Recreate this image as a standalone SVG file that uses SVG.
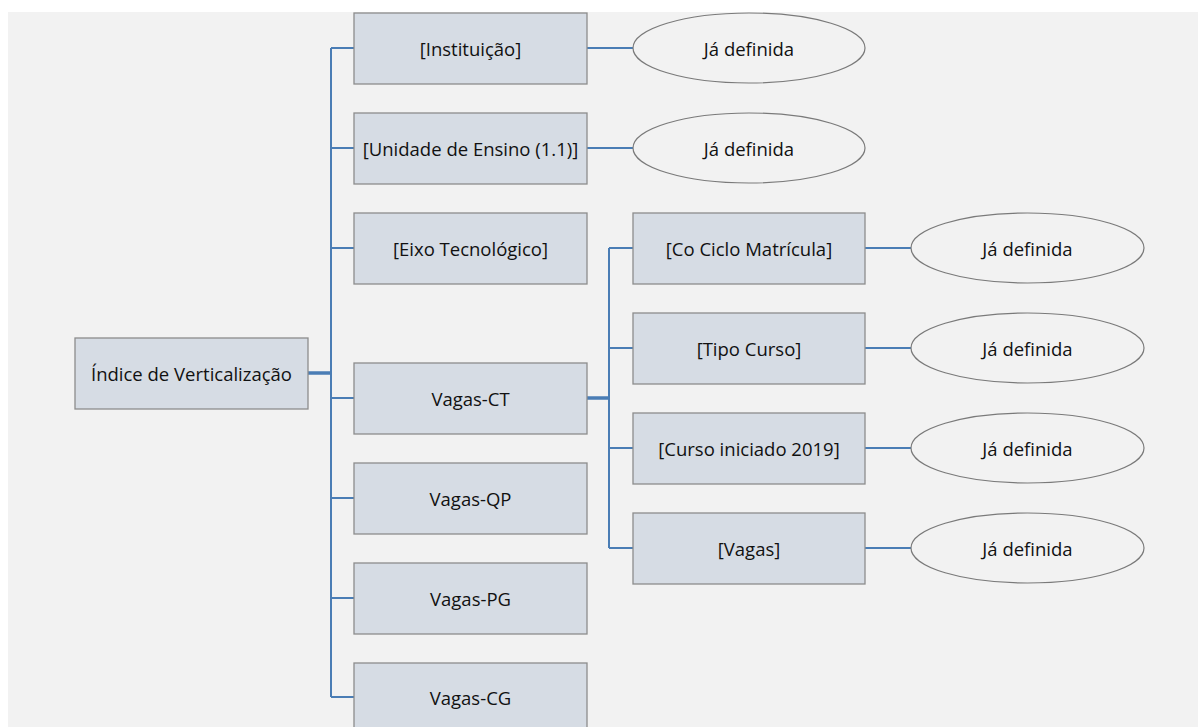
<svg xmlns="http://www.w3.org/2000/svg" width="1198" height="727" viewBox="0 0 1198 727">
<style>
.bg{fill:#f2f2f2}
.box{fill:#d6dce4;stroke:#8c8c8c;stroke-width:1.3}
.ell{fill:#f2f2f2;stroke:#7a7a7a;stroke-width:1.2}
.c{fill:none;stroke:#4a7db5;stroke-width:2}
.ct{fill:none;stroke:#4a7db5;stroke-width:3.5}
text{font-family:"Open Sans","Liberation Sans",sans-serif;font-size:18.5px;fill:#111;text-anchor:middle;dominant-baseline:central}
</style>
<rect class="bg" x="8" y="12" width="1190" height="715"/>
<g id="connectors">
<path class="c" d="M331 48 V697"/>
<path class="ct" d="M308 373 H331"/>
<path class="c" d="M331 48 H354 M331 148 H354 M331 248 H354 M331 398 H354 M331 498 H354 M331 598 H354 M331 697 H354"/>
<path class="c" d="M587 48 H633 M587 148 H633"/>
<path class="ct" d="M587 398 H609"/>
<path class="c" d="M609 248 V548 M609 248 H633 M609 348 H633 M609 448 H633 M609 548 H633"/>
<path class="c" d="M865 248 H911 M865 348 H911 M865 448 H911 M865 548 H911"/>
</g>
<g id="root"><rect class="box" x="75" y="338" width="233" height="71"/><text x="191.5" y="373.5">Índice de Verticalização</text></g>
<g id="instituicao"><rect class="box" x="354" y="13" width="233" height="71"/><text x="470.5" y="48.5">[Instituição]</text></g>
<g id="unidade"><rect class="box" x="354" y="113" width="233" height="71"/><text x="470.5" y="148.5">[Unidade de Ensino (1.1)]</text></g>
<g id="eixo"><rect class="box" x="354" y="213" width="233" height="71"/><text x="470.5" y="248.5">[Eixo Tecnológico]</text></g>
<g id="vagas-ct"><rect class="box" x="354" y="363" width="233" height="71"/><text x="470.5" y="398.5">Vagas-CT</text></g>
<g id="vagas-qp"><rect class="box" x="354" y="463" width="233" height="71"/><text x="470.5" y="498.5">Vagas-QP</text></g>
<g id="vagas-pg"><rect class="box" x="354" y="563" width="233" height="71"/><text x="470.5" y="598.5">Vagas-PG</text></g>
<g id="vagas-cg"><rect class="box" x="354" y="663" width="233" height="71"/><text x="470.5" y="697.5">Vagas-CG</text></g>
<g id="ciclo"><rect class="box" x="633" y="213" width="232" height="71"/><text x="749" y="248.5">[Co Ciclo Matrícula]</text></g>
<g id="tipo"><rect class="box" x="633" y="313" width="232" height="71"/><text x="749" y="348.5">[Tipo Curso]</text></g>
<g id="curso"><rect class="box" x="633" y="413" width="232" height="71"/><text x="749" y="448.5">[Curso iniciado 2019]</text></g>
<g id="vagas"><rect class="box" x="633" y="513" width="232" height="71"/><text x="749" y="548.5">[Vagas]</text></g>
<g id="def1"><ellipse class="ell" cx="749" cy="48" rx="116" ry="35"/><text x="749" y="48">Já definida</text></g>
<g id="def2"><ellipse class="ell" cx="749" cy="148" rx="116" ry="35"/><text x="749" y="148">Já definida</text></g>
<g id="def3"><ellipse class="ell" cx="1027.5" cy="248" rx="116.5" ry="35"/><text x="1027.5" y="248">Já definida</text></g>
<g id="def4"><ellipse class="ell" cx="1027.5" cy="348" rx="116.5" ry="35"/><text x="1027.5" y="348">Já definida</text></g>
<g id="def5"><ellipse class="ell" cx="1027.5" cy="448" rx="116.5" ry="35"/><text x="1027.5" y="448">Já definida</text></g>
<g id="def6"><ellipse class="ell" cx="1027.5" cy="548" rx="116.5" ry="35"/><text x="1027.5" y="548">Já definida</text></g>
</svg>
